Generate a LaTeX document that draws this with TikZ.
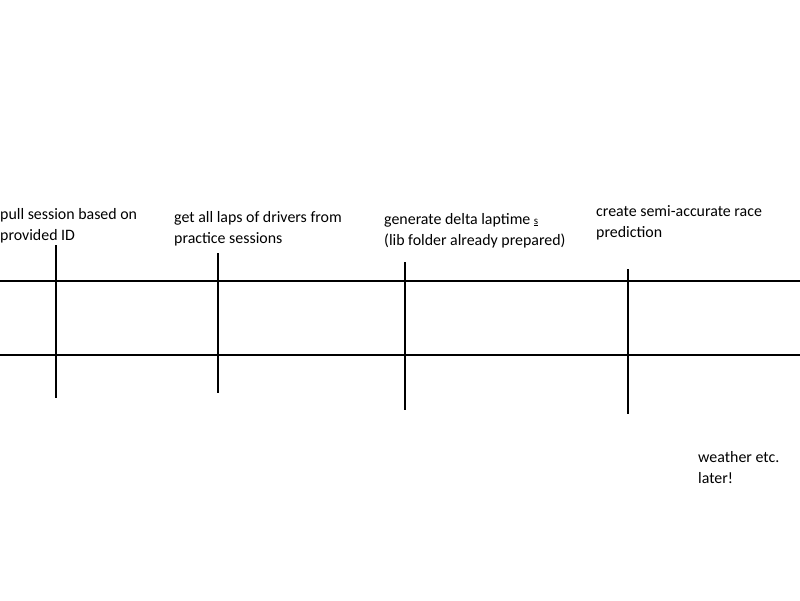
\documentclass[tikz,border=0pt]{standalone}
\usepackage{fontspec}
\setmainfont{Carlito}
\begin{document}
\begin{tikzpicture}[x=1pt,y=-1pt,
  lbl/.style={anchor=base west,inner sep=0pt,align=left,font=\fontsize{15.9}{21}\selectfont},
  ln/.style={line width=2pt,black}]
\useasboundingbox (0,0) rectangle (800,600);
% horizontal lines
\coordinate (h1l) at (0,281); \coordinate (h1r) at (800,281);
\coordinate (h2l) at (0,355); \coordinate (h2r) at (800,355);
\draw[ln] (h1l) -- (h1r);
\draw[ln] (h2l) -- (h2r);
% vertical lines
\coordinate (v1t) at (56,245); \coordinate (v1b) at (56,398);
\coordinate (v2t) at (218,253); \coordinate (v2b) at (218,393);
\coordinate (v3t) at (405,262); \coordinate (v3b) at (405,410);
\coordinate (v4t) at (628,269); \coordinate (v4b) at (628,414);
\draw[ln] (v1t) -- (v1b);
\draw[ln] (v2t) -- (v2b);
\draw[ln] (v3t) -- (v3b);
\draw[ln] (v4t) -- (v4b);
% labels (anchor at baseline of last line)
\node[lbl] (t1) at (0,240) {pull session based on\\provided ID};
\node[lbl] (t2) at (174,243) {get all laps of drivers from\\practice sessions};
\node[lbl] (t3) at (384,245) {generate delta laptime {\fontsize{11}{11}\selectfont\underline{s}}\\(lib folder already prepared)};
\node[lbl] (t4) at (596,237) {create semi-accurate race\\prediction};
\node[lbl] (t5) at (698,483) {weather etc.\\later!};
\end{tikzpicture}
\end{document}
